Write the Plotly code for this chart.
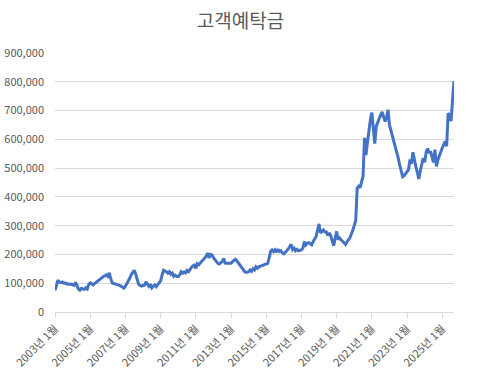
import plotly.graph_objects as go

# 고객예탁금 monthly values (억원)
v2003 = [75000, 95000, 111000, 104000, 102000, 104000, 100000, 101000, 97000, 98000, 96000, 97000]
v2004 = [95000, 93000, 103000, 90000, 80000, 76000, 82000, 80000, 79000, 84000, 80000, 96000]
v2005 = [101000, 98000, 94000, 99000, 103000, 108000, 114000, 117000, 121000, 123000, 126000, 129000]
v2006 = [124000, 136000, 116000, 101000, 99000, 96000, 96000, 94000, 93000, 90000, 87000, 83000]
v2007 = [90000, 98000, 108000, 118000, 130000, 140000, 145000, 132000, 112000, 97000, 92000, 90000]
v2008 = [92000, 93000, 105000, 95000, 89000, 96000, 84000, 90000, 94000, 88000, 95000, 100000]
v2009 = [108000, 128000, 145000, 142000, 140000, 135000, 140000, 131000, 135000, 124000, 128000, 124000]
v2010 = [123000, 129000, 140000, 135000, 139000, 136000, 144000, 140000, 150000, 155000, 160000, 163000]
v2011 = [152000, 168000, 164000, 170000, 178000, 183000, 188000, 193000, 205000, 188000, 200000, 199000]
v2012 = [189000, 183000, 175000, 169000, 167000, 170000, 175000, 186000, 170000, 169000, 169000, 169000]
v2013 = [169000, 175000, 179000, 183000, 177000, 171000, 165000, 160000, 150000, 142000, 138000, 138000]
v2014 = [140000, 146000, 141000, 150000, 146000, 157000, 152000, 157000, 159000, 161000, 163000, 164000]
v2015 = [165000, 169000, 188000, 211000, 216000, 210000, 216000, 208000, 218000, 210000, 213000, 205000]
v2016 = [202000, 206000, 213000, 219000, 228000, 235000, 217000, 222000, 213000, 218000, 213000, 215000]
v2017 = [216000, 222000, 245000, 233000, 239000, 241000, 236000, 233000, 245000, 256000, 262000, 285000]
v2018 = [306000, 275000, 282000, 285000, 278000, 278000, 266000, 275000, 265000, 248000, 230000, 256000]
v2019 = [280000, 252000, 257000, 251000, 247000, 241000, 235000, 246000, 251000, 257000, 268000, 284000]
v2020 = [300000, 318000, 431000, 437000, 432000, 452000, 472000, 605000, 545000, 590000, 640000, 668000]
v2021 = [693000, 640000, 585000, 645000, 660000, 672000, 685000, 695000, 675000, 662000, 675000, 703000]
v2022 = [650000, 632000, 605000, 588000, 572000, 558000, 535000, 510000, 490000, 470000, 474000, 480000]
v2023 = [486000, 495000, 530000, 515000, 555000, 525000, 505000, 485000, 462000, 490000, 510000, 535000]
v2024 = [520000, 555000, 568000, 552000, 558000, 535000, 520000, 564000, 506000, 528000, 545000, 558000]
v2025 = [570000, 582000, 593000, 576000, 690000, 686000, 663000, 735000, 802000]

values = (v2003 + v2004 + v2005 + v2006 + v2007 + v2008 + v2009 + v2010 + v2011 + v2012
          + v2013 + v2014 + v2015 + v2016 + v2017 + v2018 + v2019 + v2020 + v2021 + v2022
          + v2023 + v2024 + v2025)

months = [f"{y}년 {m}월" for y in range(2003, 2026) for m in range(1, 13)][:len(values)]
tick_labels = [f"{y}년 1월" for y in range(2003, 2026, 2)]

fig = go.Figure(
    go.Scatter(x=months, y=values, mode="lines",
               line=dict(color="#4472C4", width=3), hoverinfo="x+y")
)

fig.update_layout(
    width=481, height=376,
    margin=dict(l=55, r=27, t=53, b=64, autoexpand=False),
    paper_bgcolor="white", plot_bgcolor="white",
    font=dict(family="Noto Sans CJK KR", color="#595959"),
    title=dict(text="고객예탁금", x=0.5, xanchor="center", xref="container",
               y=1 - 21 / 376, yanchor="middle", yref="container",
               font=dict(size=19, color="#595959")),
    showlegend=False,
)

fig.update_xaxes(
    type="category", tickvals=tick_labels, ticktext=tick_labels,
    tickangle=-45, range=[0, len(values) - 1], automargin=False,
    showgrid=False, showline=True, linecolor="#d9d9d9", linewidth=1,
    ticks="outside", tickcolor="#d9d9d9", ticklen=5,
    tickfont=dict(size=11, color="#595959"),
)

fig.update_yaxes(
    range=[0, 900000], dtick=100000, tickformat=",", automargin=False,
    showgrid=True, gridcolor="#d9d9d9", gridwidth=1,
    zeroline=False, showline=False,
    tickfont=dict(size=11, color="#595959"),
    ticklabelstandoff=10,
)

fig.write_html(
    "out.html",
    config={"displayModeBar": False},
    post_script="document.body.style.margin='0';document.body.style.overflow='hidden';",
)
